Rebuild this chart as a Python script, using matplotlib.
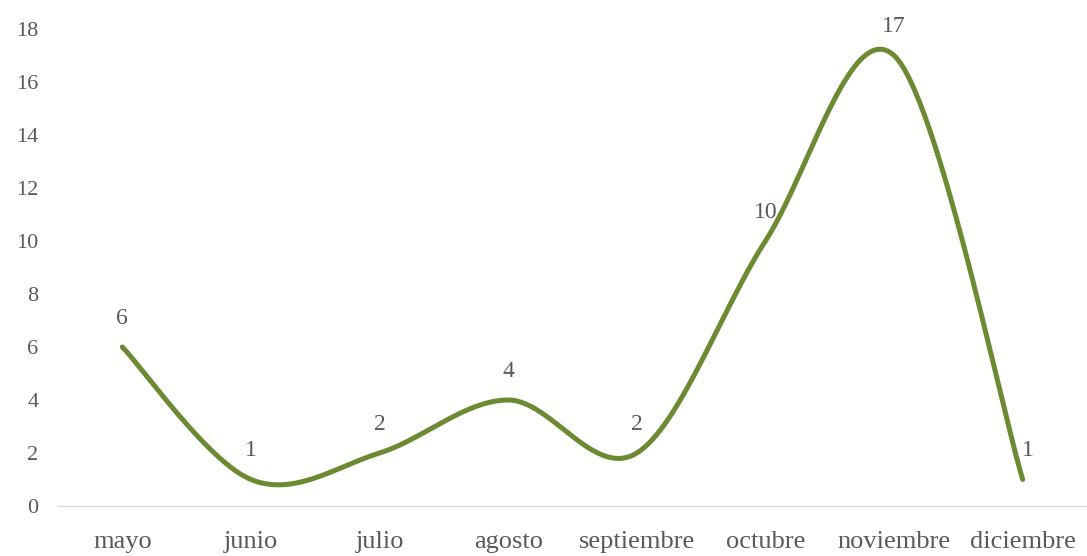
import numpy as np
import matplotlib
matplotlib.use("Agg")
import matplotlib.pyplot as plt

categories = ["mayo", "junio", "julio", "agosto", "septiembre", "octubre", "noviembre", "diciembre"]
values = [6, 1, 2, 4, 2, 10, 17, 1]
yticks = [0, 2, 4, 6, 8, 10, 12, 14, 16, 18]

line_color = "#6b8a32"
text_color = "#595959"
plt.rcParams["font.family"] = ["Liberation Serif", "DejaVu Serif"]

fig = plt.figure(figsize=(10.87, 5.56), dpi=100)
ax = fig.add_axes([58 / 1087, 50 / 556, 1 - 58 / 1087, (506 - 29) / 556])

x = np.arange(len(values), dtype=float)
y = np.array(values, dtype=float)

# Excel-style smoothed line: cubic Bezier segments with 1/6 tangent control points
px = np.concatenate([[x[0]], x, [x[-1]]])
py = np.concatenate([[y[0]], y, [y[-1]]])
xs, ys = [], []
t = np.linspace(0, 1, 60)
for i in range(len(x) - 1):
    p0 = np.array([px[i + 1], py[i + 1]])
    p3 = np.array([px[i + 2], py[i + 2]])
    c1 = p0 + (np.array([px[i + 2], py[i + 2]]) - np.array([px[i], py[i]])) / 6
    c2 = p3 - (np.array([px[i + 3], py[i + 3]]) - np.array([px[i + 1], py[i + 1]])) / 6
    b = ((1 - t) ** 3)[:, None] * p0 + (3 * (1 - t) ** 2 * t)[:, None] * c1 \
        + (3 * (1 - t) * t ** 2)[:, None] * c2 + (t ** 3)[:, None] * p3
    xs.extend(b[:, 0]); ys.extend(b[:, 1])

ax.plot(xs, ys, color=line_color, lw=3.6, solid_capstyle="round", clip_on=False)

for i, (xi, yi) in enumerate(zip(x, y)):
    dx = 4 if i == len(x) - 1 else 0
    ax.annotate(str(int(yi)), (xi, yi), xytext=(dx, 13), textcoords="offset points",
                ha="center", va="bottom", fontsize=17, color=text_color)

ax.set_xlim(-0.5, len(values) - 0.5)
ax.set_ylim(0, 18)
ax.set_xticks(x)
ax.set_xticklabels(categories)
ax.set_yticks(yticks)
ax.tick_params(axis="x", length=0, pad=18, labelsize=19, labelcolor=text_color)
ax.tick_params(axis="y", length=0, pad=14, labelsize=16, labelcolor=text_color)
for side in ["top", "right", "left"]:
    ax.spines[side].set_visible(False)
ax.spines["bottom"].set_color("#d9d9d9")
ax.spines["bottom"].set_linewidth(1)

fig.savefig("out.png", dpi=100)
